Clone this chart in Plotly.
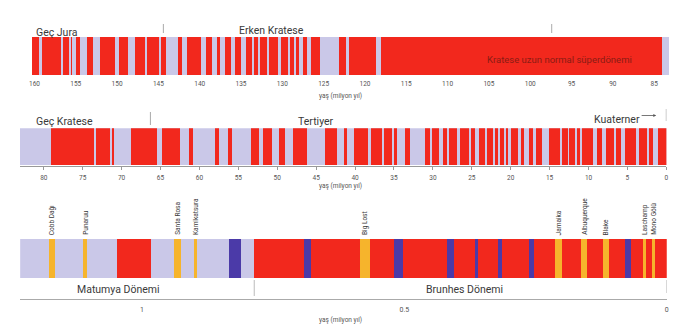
import plotly.graph_objects as go

W, H = 676, 324

RED = "#f2281d"
LAV = "#cac8e8"
BLUE = "#4b3aa8"
ORANGE = "#f6b42c"
TXT = "#3a3a3a"
FONT = "Roboto"

# ---------------- data (ages in million years) ----------------
# Panel 1: Late Jurassic - Cretaceous, normal background with reversed intervals
p1_span = (160.3, 83.2)
p1_reversed = [
    (159.40, 159.12), (156.80, 156.56), (155.80, 155.60), (155.48, 155.31),
    (155.16, 155.00), (154.52, 153.60), (152.88, 152.12), (150.27, 149.79),
    (148.67, 147.87), (146.67, 146.35), (144.98, 144.67), (144.07, 142.58),
    (142.18, 141.58), (139.87, 139.30), (138.50, 137.86), (137.58, 136.98),
    (136.18, 135.78), (135.06, 134.38), (133.69, 133.45), (132.97, 132.78),
    (131.85, 131.58), (130.57, 130.17), (129.37, 129.17), (128.65, 128.37),
    (128.04, 127.56), (127.05, 126.57), (125.45, 123.17), (122.33, 121.92),
    (118.72, 118.12), (84.00, 83.20),
]
p1_ticks = [160, 155, 150, 145, 140, 135, 130, 125, 120, 115, 110, 105, 100, 95, 90, 85]
p1_boundaries = [144.4, 97.4]

# Panel 2: Late Cretaceous - Quaternary, reversed background with normal intervals
p2_span = (83.1, 0.0)
p2_normal = [
    (79.08, 73.55), (73.32, 71.56), (71.34, 71.00), (68.79, 65.56), (64.83, 62.50),
    (61.35, 60.88), (57.98, 57.53), (56.42, 55.91), (53.39, 52.33), (51.82, 50.74),
    (49.87, 49.02), (48.00, 46.21), (43.92, 42.42), (41.53, 41.02), (40.13, 38.34),
    (38.02, 36.56), (36.29, 35.33), (35.05, 34.64), (33.62, 33.04), (31.07, 30.37),
    (30.17, 29.31), (28.78, 28.20), (27.93, 26.99), (26.57, 25.38), (25.13, 24.59),
    (24.15, 23.29), (23.04, 22.32), (22.00, 21.76), (21.43, 20.96), (20.66, 20.36),
    (20.06, 19.07), (18.75, 18.28), (17.73, 17.22), (16.79, 16.02), (15.18, 13.71),
    (13.49, 12.73), (12.54, 11.84), (11.54, 11.20), (10.91, 9.44), (9.00, 8.27),
    (7.86, 6.76), (6.45, 5.82), (5.31, 3.99), (3.61, 2.55), (2.21, 1.79), (1.12, 0.00),
]
p2_ticks = [80, 75, 70, 65, 60, 55, 50, 45, 40, 35, 30, 25, 20, 15, 10, 5, 0]
p2_boundaries = [66.3]

# Panel 3: Matuyama - Brunhes
p3_matuyama = (1.232, 0.786)
p3_brunhes = (0.786, 0.0)
p3_normal_events = [(1.047, 0.983)]
p3_blue_events = [
    (0.833, 0.810), (0.690, 0.678), (0.519, 0.503), (0.419, 0.406),
    (0.366, 0.359), (0.322, 0.313), (0.262, 0.253), (0.079, 0.068),
]
p3_excursion_names = ["Cobb Dağı", "Punaruu", "Santa Rosa", "Kamikatsura", "Big Lost",
                      "Jamaika", "Albuquerque", "Blake", "Laschamp", "Mono Gölü"]
p3_excursions = [
    (1.176, 1.166), (1.112, 1.104), (0.939, 0.926), (0.901, 0.895), (0.584, 0.566),
    (0.212, 0.199), (0.163, 0.151), (0.121, 0.109), (0.044, 0.041), (0.027, 0.023),
]
p3_ticks = [1, 0.5, 0]
p3_tick_text = ["1", "0.5", "0"]


def px(x):
    return x / W


def py(y):
    return 1 - y / H


def seg(intervals, color, n):
    lo = [min(a, b) for a, b in intervals]
    ln = [abs(a - b) for a, b in intervals]
    return go.Bar(
        orientation="h", y=[0] * len(intervals), base=lo, x=ln, width=[1] * len(intervals),
        marker=dict(color=color, line=dict(width=0)),
        xaxis="x" if n == 1 else f"x{n}", yaxis="y" if n == 1 else f"y{n}",
        hoverinfo="skip", showlegend=False,
    )


fig = go.Figure()
# panel 1
fig.add_trace(seg([p1_span], RED, 1))
fig.add_trace(seg(p1_reversed, LAV, 1))
# panel 2
fig.add_trace(seg([p2_span], LAV, 2))
fig.add_trace(seg(p2_normal, RED, 2))
# panel 3
fig.add_trace(seg([p3_matuyama], LAV, 3))
fig.add_trace(seg([p3_brunhes], RED, 3))
fig.add_trace(seg(p3_normal_events, RED, 3))
fig.add_trace(seg(p3_blue_events, BLUE, 3))
fig.add_trace(seg(p3_excursions, ORANGE, 3))

tickfont = dict(family=FONT, size=6.5, color="#555")
yax = dict(range=[-0.5, 0.5], visible=False, fixedrange=True)

fig.update_layout(
    width=W, height=H, margin=dict(l=0, r=0, t=0, b=0),
    paper_bgcolor="white", plot_bgcolor="rgba(0,0,0,0)",
    barmode="overlay", bargap=0,
    xaxis=dict(domain=[px(29.2), px(671)], range=[p1_span[0], p1_span[1]], anchor="y",
               tickvals=p1_ticks, ticktext=[str(t) for t in p1_ticks], tickfont=tickfont,
               ticks="", showgrid=False, zeroline=False, showline=False, ticklabelstandoff=3),
    yaxis=dict(domain=[py(75), py(36.5)], **yax),
    xaxis2=dict(domain=[px(16.8), px(668.3)], range=[p2_span[0], p2_span[1]], anchor="y2",
                tickvals=p2_ticks, ticktext=[str(t) for t in p2_ticks], tickfont=tickfont,
                ticks="outside", ticklen=3, tickcolor="#999", tickwidth=0.8,
                showgrid=False, zeroline=False, showline=True, linecolor="#999", linewidth=0.8,
                ticklabelstandoff=3),
    yaxis2=dict(domain=[py(165.7), py(128.3)], **yax),
    xaxis3=dict(domain=[px(17.3), px(668.7)], range=[p3_matuyama[0], p3_brunhes[1]],
                anchor="free", position=py(299),
                tickvals=p3_ticks, ticktext=p3_tick_text, tickfont=dict(family=FONT, size=7, color="#555"),
                ticks="", showgrid=False, zeroline=False, showline=True, linecolor="#aaa", linewidth=1,
                ticklabelstandoff=4),
    yaxis3=dict(domain=[py(278), py(239)], **yax),
)

ann = []


def label(text, x, y, size=10.5, color=TXT, xanchor="center", **kw):
    ann.append(dict(text=text, x=px(x), y=py(y), xref="paper", yref="paper", showarrow=False,
                    xanchor=xanchor, yanchor="middle",
                    font=dict(family=FONT, size=size, color=color), **kw))


label("Geç Jura", 31, 32, xanchor="left")
label("Erken Kratese", 270, 31)
label("Kratese uzun normal süperdönemi", 561, 59, size=9.5, color="#8a1c14")
label("yaş (milyon yıl)", 340, 96, size=6.5, color="#555")
label("Geç Kratese", 31, 121.5, xanchor="left")
label("Tertiyer", 315, 121)
label("Kuaterner", 618.5, 119)
label("yaş (milyon yıl)", 340, 186, size=6.5, color="#555")
label("Matumya Dönemi", 116.7, 289)
label("Brunhes Dönemi", 465, 289)
label("yaş (milyon yıl)", 340, 320, size=6.5, color="#555")

for name, (a, b) in zip(p3_excursion_names, p3_excursions):
    ann.append(dict(text=name, x=(a + b) / 2, y=py(237), xref="x3", yref="paper",
                    showarrow=False, textangle=-90, xanchor="center", yanchor="bottom",
                    font=dict(family=FONT, size=6.5, color=TXT)))

# Kuaterner arrow
ann.append(dict(text="", x=px(658), y=py(115.5), xref="paper", yref="paper",
                ax=-16, ay=0, showarrow=True, arrowhead=2, arrowsize=0.7, arrowwidth=0.8,
                arrowcolor="#555"))
fig.update_layout(annotations=ann)

shapes = []
for b in p1_boundaries:
    shapes.append(dict(type="line", xref="x", yref="paper", x0=b, x1=b, y0=py(33), y1=py(24),
                       line=dict(color="#aaa", width=1)))
for b in p2_boundaries:
    shapes.append(dict(type="line", xref="x2", yref="paper", x0=b, x1=b, y0=py(125), y1=py(112),
                       line=dict(color="#aaa", width=1)))
shapes.append(dict(type="line", xref="x2", yref="paper", x0=0, x1=0, y0=py(121), y1=py(109),
                   line=dict(color="#777", width=0.8)))
shapes.append(dict(type="line", xref="x3", yref="paper", x0=p3_brunhes[0], x1=p3_brunhes[0],
                   y0=py(296), y1=py(280), line=dict(color="#bbb", width=1)))
shapes.append(dict(type="line", xref="x3", yref="paper", x0=0, x1=0,
                   y0=py(293), y1=py(280), line=dict(color="#bbb", width=1)))
fig.update_layout(shapes=shapes)

fig.write_html("out.html")
